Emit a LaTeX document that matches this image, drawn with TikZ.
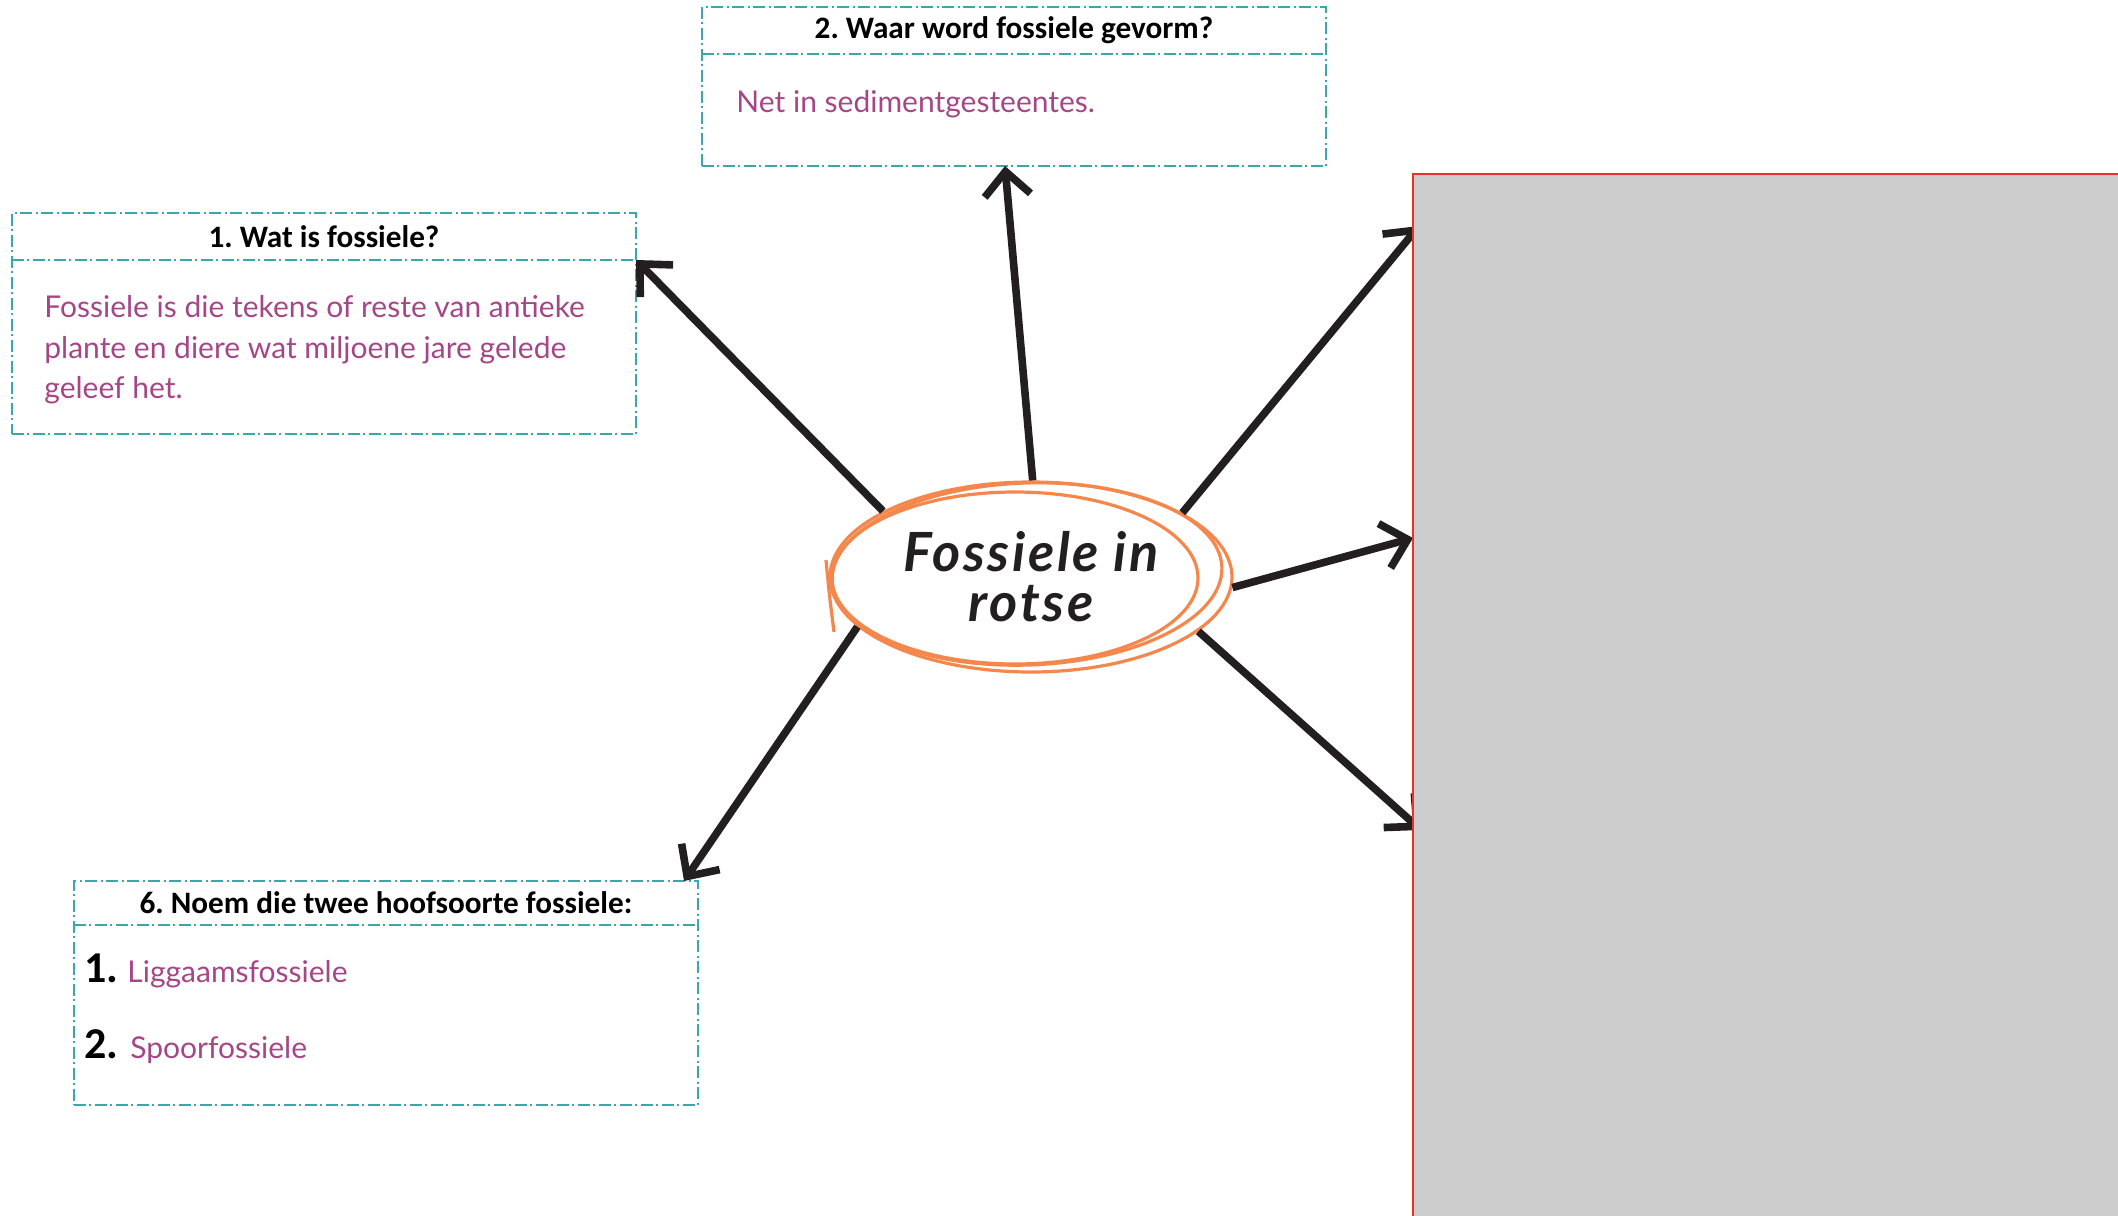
\documentclass[tikz,border=0pt]{standalone}
\usepackage{fontspec}
\setmainfont{Carlito}
\newfontfamily\handfont{Lato}
\newfontfamily\titlefont[LetterSpace=5]{Lato}
\frenchspacing
\usetikzlibrary{arrows.meta,shapes.geometric,positioning}

\definecolor{boxteal}{RGB}{58,168,170}
\definecolor{answerpurple}{RGB}{165,70,135}
\definecolor{loopsorange}{RGB}{244,135,75}
\definecolor{arrowblack}{RGB}{35,31,32}
\definecolor{edgered}{RGB}{228,52,40}
\definecolor{blankgrey}{RGB}{204,204,204}

\tikzset{
  qline/.style={draw=boxteal, line width=1pt, dash pattern=on 6pt off 1.5pt on 1pt off 2pt},
  qbox/.style={qline, minimum width=312pt, inner sep=0pt, outer sep=0pt, anchor=north west},
  qhead/.style={minimum width=312pt, inner sep=0pt, outer sep=0pt, anchor=north, font=\bfseries\fontsize{15.6}{18}\selectfont},
  answer/.style={inner sep=0pt, text=answerpurple, font=\handfont\fontsize{15}{20.25}\selectfont, align=left},
  listnum/.style={inner sep=0pt, font=\bfseries\fontsize{22}{24}\selectfont},
  spoke/.style={draw=arrowblack, line width=3.8pt, -{Straight Barb[length=12pt,width=23pt]}},
  loop/.style={draw=loopsorange, line width=1.6pt},
}

\begin{document}
\begin{tikzpicture}[x=0.5pt,y=0.5pt,yscale=-1,xscale=1]
\useasboundingbox (0,0) rectangle (2118,1215);

%Shape: Box 1
\node[qbox, minimum height=110.5pt] (b1) at (12,213) {};
\node[qhead, minimum height=23.5pt] (h1) at (b1.north) {1. Wat is fossiele?};
\draw[qline] (h1.south west) -- (h1.south east);
% Text Node
\node[answer, anchor=west] (a1) at (44,350) {Fossiele is die tekens of reste van antieke\\plante en diere wat miljoene jare gelede\\geleef het.};

%Shape: Box 2
\node[qbox, minimum height=79.5pt] (b2) at (702,7) {};
\node[qhead, minimum height=23.5pt] (h2) at (b2.north) {2. Waar word fossiele gevorm?};
\draw[qline] (h2.south west) -- (h2.south east);
% Text Node
\node[answer, anchor=base west] (a2) at (736,112) {Net in sedimentgesteentes.};

%Shape: Box 6
\node[qbox, minimum height=112pt] (b6) at (74,881) {};
\node[qhead, minimum height=22pt] (h6) at (b6.north) {6. Noem die twee hoofsoorte fossiele:};
\draw[qline] (h6.south west) -- (h6.south east);
% Text Node
\node[listnum, anchor=base west] (n1) at (84,982) {1.};
\node[answer, anchor=base west] (l1) at (127,982) {Liggaamsfossiele};
\node[listnum, anchor=base west] (n2) at (84,1058) {2.};
\node[answer, anchor=base west] (l2) at (130,1058) {Spoorfossiele};

%Shape: Ellipse
\node[ellipse, loop, minimum width=201pt, minimum height=95pt, inner sep=0pt, align=center, text=arrowblack,
      font=\titlefont\bfseries\itshape\fontsize{27}{25}\selectfont] (centre) at (1031,577) {Fossiele in\\rotse};
\draw[loop] (1015,578) ellipse [x radius=183, y radius=86];
\draw[loop, rotate around={-2:(1027,574)}] (1027,574) ellipse [x radius=195, y radius=91];
\draw[loop] (826,560) .. controls (829,592) .. (834,632);

%Straight Lines
\coordinate (r1) at (1419,226);
\coordinate (r2) at (1413,538);
\coordinate (r3) at (1421,830);
\draw[spoke] (centre.156) -- (h1.south east);
\draw[spoke] (centre.89) -- ([xshift=-4.5pt]b2.south);
\draw[spoke] (centre.196) -- ([xshift=-7pt]b6.north east);
\draw[spoke] (centre.23) -- (r1);
\draw[spoke] (centre.-3) -- (r2);
\draw[spoke] (centre.-18) -- (r3);

%Shape: Rectangle
\draw[draw=edgered, fill=blankgrey, line width=1.2pt] (1413,174) rectangle (2130,1225);

\end{tikzpicture}
\end{document}
